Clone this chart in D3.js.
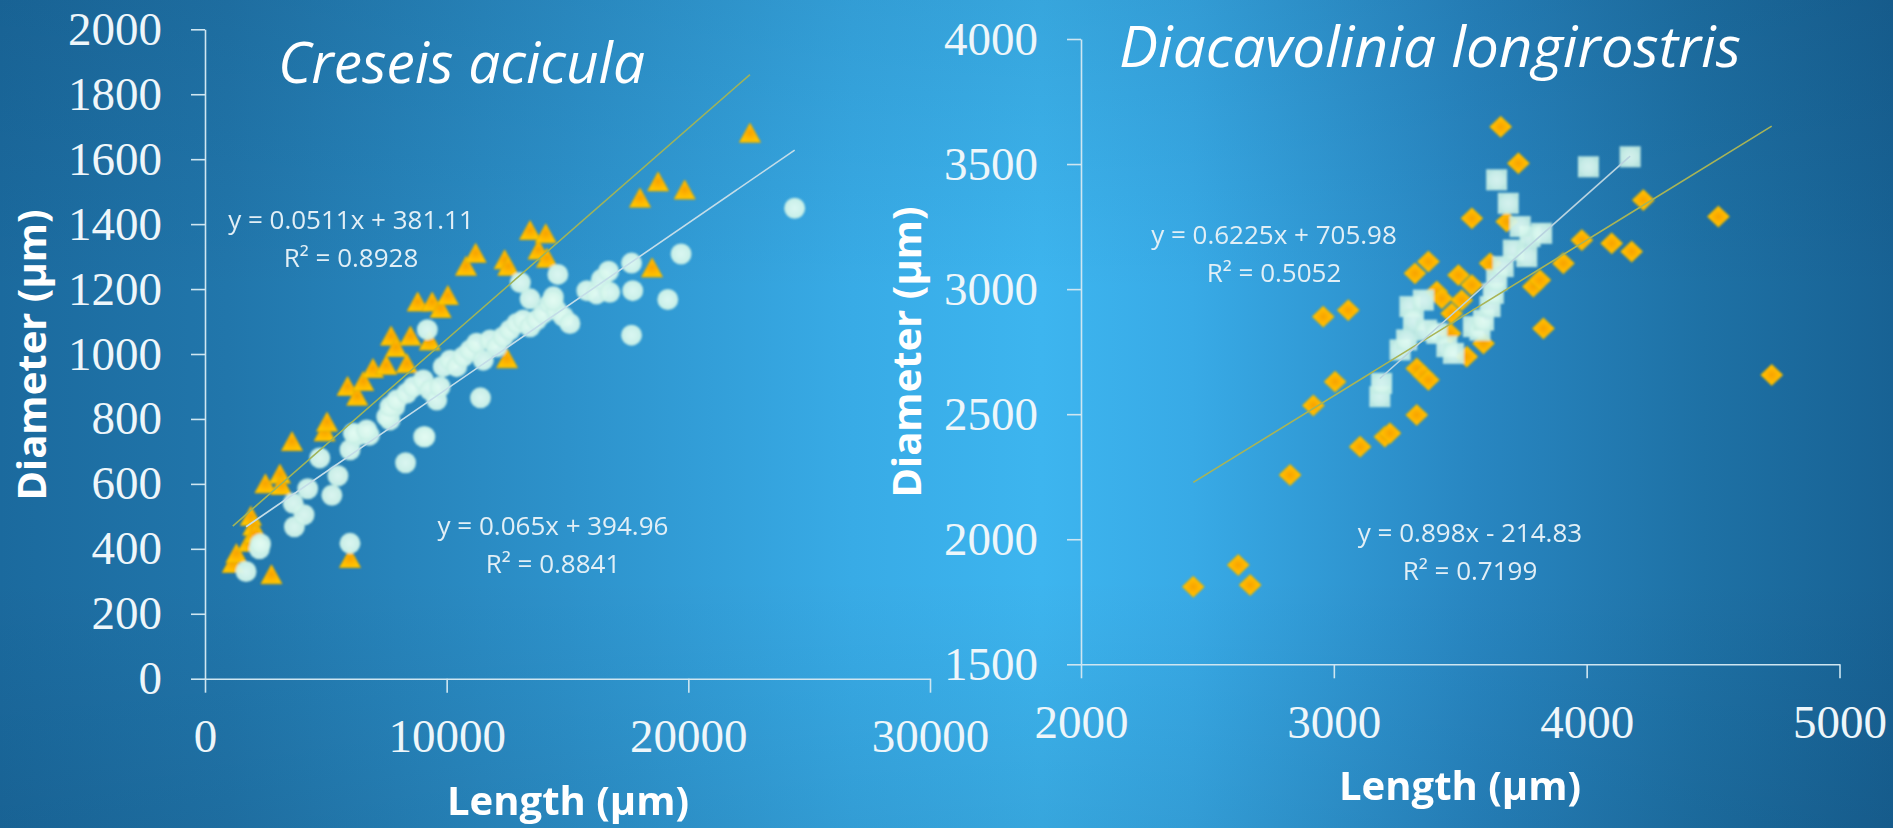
<!DOCTYPE html>
<html>
<head>
<meta charset="utf-8">
<script src="https://cdn.jsdelivr.net/npm/d3@7"></script>
<style>
  html, body { margin: 0; padding: 0; overflow: hidden; background: #2a8ac4; }
  svg { display: block; }
</style>
</head>
<body>
<svg id="chart" width="1893" height="828"></svg>
<script>
// ---------- data: [length µm, diameter µm] ----------
const creseisTriangles = [
  [1150, 355], [1300, 385], [1800, 420], [1900, 500], [2000, 470], [2050, 445],
  [2750, 320], [2500, 600], [3100, 630], [3150, 595], [3600, 730], [4950, 760],
  [5050, 790], [5900, 900], [6000, 370], [6300, 870], [6550, 915], [6950, 955],
  [7500, 965], [7700, 1055], [7900, 1020], [8350, 970], [8500, 1055], [8800, 1160],
  [9300, 1040], [9400, 1160], [9750, 1140], [10050, 1180], [10800, 1270], [11200, 1310],
  [12400, 1290], [12550, 1270], [12500, 985], [13450, 1380], [13800, 1320], [14100, 1370],
  [14150, 1295], [18000, 1480], [18500, 1265], [18750, 1530], [19850, 1505], [22550, 1680]
];
const creseisCircles = [
  [1700, 330], [2250, 400], [2300, 415], [3700, 468], [4100, 505], [3650, 540],
  [4250, 585], [4750, 680], [5250, 565], [5500, 625], [6000, 417], [6000, 705],
  [6350, 750], [6800, 750], [7650, 797], [7850, 838], [8300, 665], [9050, 745],
  [9200, 1075], [11400, 865], [9100, 745],
  [6140, 756], [6690, 766], [7520, 807], [7655, 838], [7930, 858], [8345, 879],
  [8620, 899], [9035, 920], [9310, 889], [9590, 858], [9725, 899], [9860, 961],
  [10140, 981], [10415, 961], [10690, 992], [10965, 1012], [11240, 1033], [11515, 981],
  [11795, 1043], [12070, 1022], [12345, 1053], [12620, 1074], [12900, 1094], [13170, 1105],
  [13450, 1084], [13725, 1105], [14000, 1125], [14275, 1156], [14550, 1135], [14830, 1115],
  [15100, 1094], [14415, 1176],
  [14400, 1165], [13450, 1170], [13050, 1220], [14600, 1245], [15800, 1195], [16200, 1185],
  [16400, 1230], [16700, 1255], [16750, 1190], [17650, 1280], [17700, 1195], [17650, 1058],
  [19150, 1168], [19700, 1308], [24400, 1449]
];
const diacavDiamonds = [
  [2444, 1810], [2622, 1897], [2669, 1817], [2827, 2257], [2919, 2535], [2958, 2890],
  [3005, 2630], [3057, 2916], [3104, 2370], [3202, 2410], [3222, 2424], [3328, 2497],
  [3328, 2683], [3354, 2657], [3374, 2637], [3321, 3063], [3374, 3110], [3407, 2990],
  [3427, 2963], [3466, 2903], [3493, 3056], [3506, 2956], [3546, 3016], [3460, 2823],
  [3526, 2730], [3592, 2783], [3546, 3283], [3618, 3103], [3660, 3649], [3684, 3270],
  [3730, 3503], [3789, 3010], [3815, 3036], [3829, 2843], [3908, 3103], [3981, 3196],
  [4099, 3183], [4178, 3150], [4224, 3356], [4521, 3290], [4732, 2657]
];
const diacavSquares = [
  [3182, 2570], [3189, 2623], [3262, 2757], [3288, 2797], [3301, 2930], [3315, 2877],
  [3354, 2956], [3367, 2836], [3407, 2823], [3447, 2770], [3473, 2743], [3552, 2850],
  [3578, 2836], [3592, 2876], [3618, 2930], [3631, 2983], [3644, 3036], [3670, 3090],
  [3710, 3156], [3763, 3130], [3776, 3210], [3737, 3250], [3822, 3223], [3644, 3437],
  [3690, 3343], [4007, 3489], [4172, 3529]
];

// linear fits shown on the chart: slope, intercept, R²
const creseisTriangleFit = [0.065, 394.96, 0.8841];
const creseisCircleFit   = [0.0511, 381.11, 0.8928];
const diacavDiamondFit   = [0.6225, 705.98, 0.5052];
const diacavSquareFit    = [0.898, -214.83, 0.7199];

// axis ticks
const creseisXTicks = [0, 10000, 20000, 30000];
const creseisYTicks = [0, 200, 400, 600, 800, 1000, 1200, 1400, 1600, 1800, 2000];
const diacavXTicks  = [2000, 3000, 4000, 5000];
const diacavYTicks  = [1500, 2000, 2500, 3000, 3500, 4000];

const panelTitles = ["Creseis acicula", "Diacavolinia longirostris"];
const xTitle = "Length (µm)";
const yTitle = "Diameter (µm)";

// ---------- drawing ----------
const W = 1893, H = 828;
const svg = d3.select("#chart");
const defs = svg.append("defs");

// backdrop
const bg = defs.append("linearGradient").attr("id", "bg")
  .attr("x1", 0).attr("x2", 1).attr("y1", 0).attr("y2", 0);
[[0, "#1b6a9e"], [0.12, "#2176ab"], [0.3, "#2d92cb"], [0.45, "#38abe6"], [0.55, "#3db5ef"],
 [0.63, "#38aae6"], [0.78, "#2886c1"], [0.9, "#1e71a5"], [1, "#186294"]]
  .forEach(([o, c]) => bg.append("stop").attr("offset", o).attr("stop-color", c));
const vshade = defs.append("linearGradient").attr("id", "vshade")
  .attr("x1", 0).attr("x2", 0).attr("y1", 0).attr("y2", 1);
[[0, "rgba(0,30,60,0.10)"], [0.35, "rgba(0,30,60,0)"], [0.7, "rgba(0,30,60,0)"], [1, "rgba(0,30,60,0.10)"]]
  .forEach(([o, c]) => vshade.append("stop").attr("offset", o).attr("stop-color", c));
svg.append("rect").attr("width", W).attr("height", H).attr("fill", "url(#bg)");
svg.append("rect").attr("width", W).attr("height", H).attr("fill", "url(#vshade)");

// marker paints
const gold = defs.append("radialGradient").attr("id", "gold");
[[0, "#f7a200"], [0.55, "#ffb600"], [1, "#ffc600"]]
  .forEach(([o, c]) => gold.append("stop").attr("offset", o).attr("stop-color", c));
const mint = defs.append("radialGradient").attr("id", "mint");
[[0, "#e4fbf3"], [0.7, "#d6f6ec"], [1, "#c6eee4"]]
  .forEach(([o, c]) => mint.append("stop").attr("offset", o).attr("stop-color", c));
defs.append("filter").attr("id", "soft").attr("x", "-20%").attr("y", "-20%")
  .attr("width", "140%").attr("height", "140%")
  .append("feGaussianBlur").attr("stdDeviation", 0.8);

const trianglePath = "M0,-10 L10.5,9 L-10.5,9 Z";
const diamondPath = "M0,-10.5 L11,0 L0,10.5 L-11,0 Z";

const axisColor = "#cfe6f1";
const labelColor = "#eef6fa";

function drawAxes(x, y, xTicks, yTicks) {
  const gx = svg.append("g")
    .attr("transform", `translate(0,${y.range()[0]})`)
    .call(d3.axisBottom(x).tickValues(xTicks).tickSize(14).tickSizeOuter(0)
      .tickPadding(26).tickFormat(d3.format("d")));
  const gy = svg.append("g")
    .attr("transform", `translate(${x.range()[0]},0)`)
    .call(d3.axisLeft(y).tickValues(yTicks).tickSize(14).tickSizeOuter(0)
      .tickPadding(29).tickFormat(d3.format("d")));
  [gx, gy].forEach(g => {
    g.selectAll("path, line").attr("stroke", axisColor).attr("stroke-width", 1.6);
    g.selectAll("text").attr("fill", labelColor)
      .attr("font-family", "'Liberation Serif', 'Times New Roman', serif")
      .attr("font-size", 47);
  });
}

function drawFit(x, y, pts, fit, color) {
  const xs = d3.extent(pts, d => d[0]);
  const seg = xs.map(v => [v, fit[0] * v + fit[1]]);
  svg.append("path")
    .attr("d", d3.line().x(d => x(d[0])).y(d => y(d[1]))(seg))
    .attr("stroke", color).attr("stroke-width", 1.6).attr("fill", "none");
}

function fitLabel(fit, cx, baseline) {
  const sign = fit[1] < 0 ? "-" : "+";
  const lines = [`y = ${fit[0]}x ${sign} ${Math.abs(fit[1])}`, `R² = ${fit[2]}`];
  const t = svg.append("g").attr("fill", "#e2eff6")
    .attr("font-family", "'Open Sans', sans-serif").attr("font-size", 26)
    .attr("text-anchor", "middle");
  lines.forEach((s, i) => t.append("text").attr("x", cx).attr("y", baseline + i * 38).text(s));
}

function title(txt, x0, baseline, len) {
  svg.append("text").attr("x", x0).attr("y", baseline)
    .attr("font-family", "'Open Sans', sans-serif").attr("font-style", "italic")
    .attr("font-size", 56).attr("fill", "#ffffff")
    .attr("textLength", len).attr("lengthAdjust", "spacingAndGlyphs")
    .text(txt);
}

function axisTitles(xc, xb, yb, yc) {
  svg.append("text").attr("x", xc).attr("y", xb).attr("text-anchor", "middle")
    .attr("font-family", "'Open Sans', sans-serif").attr("font-weight", 700)
    .attr("font-size", 40).attr("fill", "#ffffff").text(xTitle);
  svg.append("text").attr("transform", `translate(${yb},${yc}) rotate(-90)`)
    .attr("text-anchor", "middle")
    .attr("font-family", "'Open Sans', sans-serif").attr("font-weight", 700)
    .attr("font-size", 40).attr("fill", "#ffffff").text(yTitle);
}

// ---- left panel: Creseis acicula ----
const xL = d3.scaleLinear().domain([0, 30000]).range([205, 930]);
const yL = d3.scaleLinear().domain([0, 2000]).range([678.7, 29.3]);
drawAxes(xL, yL, creseisXTicks, creseisYTicks);

const mL = svg.append("g").attr("filter", "url(#soft)");
mL.selectAll("path.tri").data(creseisTriangles).join("path").attr("class", "tri")
  .attr("d", trianglePath)
  .attr("transform", d => `translate(${xL(d[0])},${yL(d[1])})`)
  .attr("fill", "url(#gold)").attr("stroke", "#e2ae00").attr("stroke-width", 1);
mL.selectAll("circle").data(creseisCircles).join("circle")
  .attr("cx", d => xL(d[0])).attr("cy", d => yL(d[1])).attr("r", 10.5)
  .attr("fill", "url(#mint)").attr("opacity", 0.95);

drawFit(xL, yL, creseisTriangles, creseisTriangleFit, "#9fb35a");
drawFit(xL, yL, creseisCircles, creseisCircleFit, "#c4dde8");
fitLabel(creseisCircleFit, 351, 229);
fitLabel(creseisTriangleFit, 553, 535);
title(panelTitles[0], 278, 82.7, 367);
axisTitles(568, 815, 46, 355);

// ---- right panel: Diacavolinia longirostris ----
const xR = d3.scaleLinear().domain([2000, 5000]).range([1081, 1839.5]);
const yR = d3.scaleLinear().domain([1500, 4000]).range([664.3, 39]);
drawAxes(xR, yR, diacavXTicks, diacavYTicks);

const mR = svg.append("g").attr("filter", "url(#soft)");
mR.selectAll("path.dia").data(diacavDiamonds).join("path").attr("class", "dia")
  .attr("d", diamondPath)
  .attr("transform", d => `translate(${xR(d[0])},${yR(d[1])})`)
  .attr("fill", "url(#gold)").attr("stroke", "#d9b000").attr("stroke-width", 1);
mR.selectAll("rect").data(diacavSquares).join("rect")
  .attr("x", d => xR(d[0]) - 10.5).attr("y", d => yR(d[1]) - 10.5)
  .attr("width", 21).attr("height", 21)
  .attr("fill", "url(#mint)").attr("opacity", 0.92);

drawFit(xR, yR, diacavDiamonds, diacavDiamondFit, "#a9b456");
drawFit(xR, yR, diacavSquares, diacavSquareFit, "#b9d3df");
fitLabel(diacavDiamondFit, 1274, 244);
fitLabel(diacavSquareFit, 1470, 542);
title(panelTitles[1], 1119, 66.7, 622);
axisTitles(1460, 800, 921, 352);
</script>
</body>
</html>
